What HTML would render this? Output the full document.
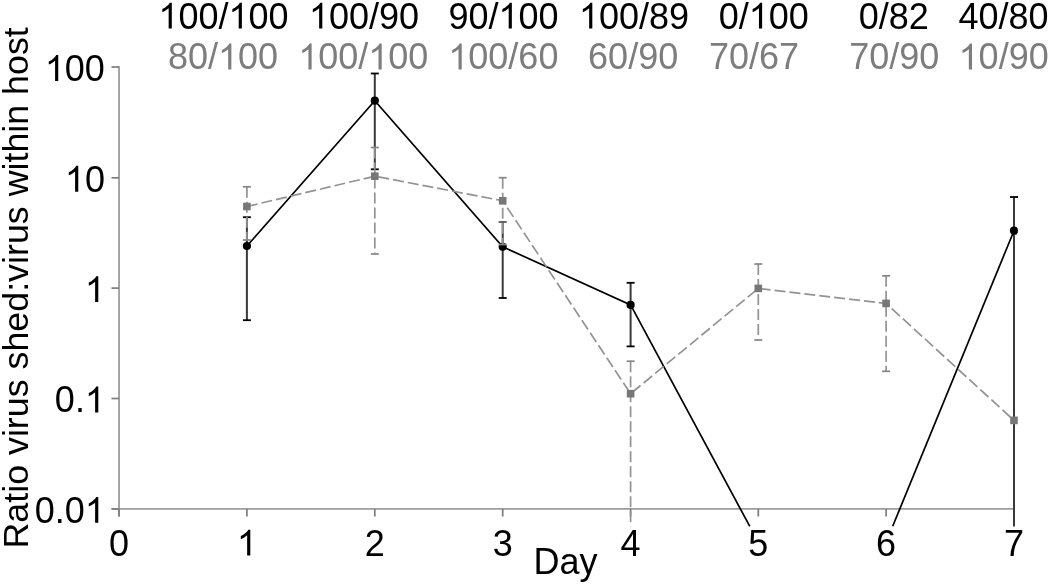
<!DOCTYPE html>
<html><head><meta charset="utf-8"><style>
html,body{margin:0;padding:0;background:#fff;}
body{width:1050px;height:584px;overflow:hidden;}
svg{display:block;will-change:transform;}
text{font-family:"Liberation Sans",sans-serif;font-size:36px;}
</style></head><body>
<svg width="1050" height="584" viewBox="0 0 1050 584">
<rect width="1050" height="584" fill="#fff"/>
<line x1="119.05" y1="66.2" x2="119.05" y2="516.5" stroke="#9c9c9c" stroke-width="1.8"/>
<line x1="111.5" y1="508.9" x2="1014" y2="508.9" stroke="#9c9c9c" stroke-width="1.6"/>
<line x1="111.5" y1="67" x2="119" y2="67" stroke="#7c7c7c" stroke-width="1.7"/>
<line x1="111.5" y1="177.8" x2="119" y2="177.8" stroke="#7c7c7c" stroke-width="1.7"/>
<line x1="111.5" y1="288.1" x2="119" y2="288.1" stroke="#7c7c7c" stroke-width="1.7"/>
<line x1="111.5" y1="398.5" x2="119" y2="398.5" stroke="#7c7c7c" stroke-width="1.7"/>
<line x1="111.5" y1="508.9" x2="119" y2="508.9" stroke="#7c7c7c" stroke-width="1.7"/>
<line x1="119" y1="508.9" x2="119" y2="516.5" stroke="#7c7c7c" stroke-width="1.7"/>
<line x1="246.9" y1="508.9" x2="246.9" y2="516.5" stroke="#7c7c7c" stroke-width="1.7"/>
<line x1="374.8" y1="508.9" x2="374.8" y2="516.5" stroke="#7c7c7c" stroke-width="1.7"/>
<line x1="502.7" y1="508.9" x2="502.7" y2="516.5" stroke="#7c7c7c" stroke-width="1.7"/>
<line x1="630.6" y1="508.9" x2="630.6" y2="516.5" stroke="#7c7c7c" stroke-width="1.7"/>
<line x1="758.3" y1="508.9" x2="758.3" y2="516.5" stroke="#7c7c7c" stroke-width="1.7"/>
<line x1="886.1" y1="508.9" x2="886.1" y2="516.5" stroke="#7c7c7c" stroke-width="1.7"/>
<line x1="1014" y1="508.9" x2="1014" y2="516.5" stroke="#7c7c7c" stroke-width="1.7"/>
<line x1="246.9" y1="217.2" x2="246.9" y2="320.2" stroke="#3a3a3a" stroke-width="2"/>
<line x1="242.9" y1="217.2" x2="250.9" y2="217.2" stroke="#000" stroke-width="1.8"/>
<line x1="242.9" y1="320.2" x2="250.9" y2="320.2" stroke="#000" stroke-width="1.8"/>
<line x1="374.8" y1="73.5" x2="374.8" y2="169.3" stroke="#3a3a3a" stroke-width="2"/>
<line x1="370.8" y1="73.5" x2="378.8" y2="73.5" stroke="#000" stroke-width="1.8"/>
<line x1="370.8" y1="169.3" x2="378.8" y2="169.3" stroke="#000" stroke-width="1.8"/>
<line x1="502.7" y1="222" x2="502.7" y2="298" stroke="#3a3a3a" stroke-width="2"/>
<line x1="498.7" y1="222" x2="506.7" y2="222" stroke="#555" stroke-width="1.8"/>
<line x1="498.7" y1="298" x2="506.7" y2="298" stroke="#000" stroke-width="1.8"/>
<line x1="630.6" y1="282.8" x2="630.6" y2="346.4" stroke="#3a3a3a" stroke-width="2"/>
<line x1="626.6" y1="282.8" x2="634.6" y2="282.8" stroke="#000" stroke-width="1.8"/>
<line x1="626.6" y1="346.4" x2="634.6" y2="346.4" stroke="#000" stroke-width="1.8"/>
<line x1="1014" y1="197" x2="1014" y2="526.5" stroke="#3a3a3a" stroke-width="2"/>
<line x1="1010" y1="197" x2="1018" y2="197" stroke="#000" stroke-width="1.8"/>
<polyline fill="none" stroke="#000" stroke-width="1.7" points="246.9,246 374.8,100.7 502.7,246.8 630.6,304.9 749.8,526.4"/>
<line x1="892.7" y1="526.2" x2="1014" y2="230.7" stroke="#000" stroke-width="1.7"/>
<circle cx="246.9" cy="246" r="4.1" fill="#000"/>
<circle cx="374.8" cy="100.7" r="4.1" fill="#000"/>
<circle cx="502.7" cy="246.8" r="4.1" fill="#000"/>
<circle cx="630.6" cy="304.9" r="4.1" fill="#000"/>
<circle cx="1014" cy="230.7" r="4.1" fill="#000"/>
<line x1="246.9" y1="186.8" x2="246.9" y2="240" stroke="#939393" stroke-width="1.7" stroke-dasharray="11,4"/>
<line x1="242.9" y1="186.8" x2="250.9" y2="186.8" stroke="#868686" stroke-width="1.7"/>
<line x1="242.9" y1="240" x2="250.9" y2="240" stroke="#868686" stroke-width="1.7"/>
<line x1="374.8" y1="147.5" x2="374.8" y2="254" stroke="#939393" stroke-width="1.7" stroke-dasharray="11,4"/>
<line x1="370.8" y1="147.5" x2="378.8" y2="147.5" stroke="#868686" stroke-width="1.7"/>
<line x1="370.8" y1="254" x2="378.8" y2="254" stroke="#868686" stroke-width="1.7"/>
<line x1="502.7" y1="177.7" x2="502.7" y2="244.5" stroke="#939393" stroke-width="1.7" stroke-dasharray="11,4"/>
<line x1="498.7" y1="177.7" x2="506.7" y2="177.7" stroke="#868686" stroke-width="1.7"/>
<line x1="498.7" y1="244.5" x2="506.7" y2="244.5" stroke="#868686" stroke-width="1.7"/>
<line x1="630.6" y1="361.2" x2="630.6" y2="526.5" stroke="#939393" stroke-width="1.7" stroke-dasharray="11,4"/>
<line x1="626.6" y1="361.2" x2="634.6" y2="361.2" stroke="#868686" stroke-width="1.7"/>
<line x1="758.3" y1="264" x2="758.3" y2="340" stroke="#939393" stroke-width="1.7" stroke-dasharray="11,4"/>
<line x1="754.3" y1="264" x2="762.3" y2="264" stroke="#868686" stroke-width="1.7"/>
<line x1="754.3" y1="340" x2="762.3" y2="340" stroke="#868686" stroke-width="1.7"/>
<line x1="886.1" y1="275.8" x2="886.1" y2="371.3" stroke="#939393" stroke-width="1.7" stroke-dasharray="11,4"/>
<line x1="882.1" y1="275.8" x2="890.1" y2="275.8" stroke="#868686" stroke-width="1.7"/>
<line x1="882.1" y1="371.3" x2="890.1" y2="371.3" stroke="#868686" stroke-width="1.7"/>
<polyline fill="none" stroke="#939393" stroke-width="1.7" stroke-dasharray="11,4" points="246.9,206.5 374.8,176.2 502.7,200.8 630.6,393.7 758.3,288.4 886.1,303.4 1014,420.4"/>
<rect x="243.1" y="202.7" width="7.6" height="7.6" fill="#777"/>
<rect x="371.0" y="172.39999999999998" width="7.6" height="7.6" fill="#777"/>
<rect x="498.9" y="197.0" width="7.6" height="7.6" fill="#777"/>
<rect x="626.8000000000001" y="389.9" width="7.6" height="7.6" fill="#777"/>
<rect x="754.5" y="284.59999999999997" width="7.6" height="7.6" fill="#777"/>
<rect x="882.3000000000001" y="299.59999999999997" width="7.6" height="7.6" fill="#777"/>
<rect x="1010.2" y="416.59999999999997" width="7.6" height="7.6" fill="#777"/>
<text x="158.40" y="28.5" fill="#000">&#8199;00/&#8199;00</text>
<path transform="translate(158.40,28.5) scale(0.017578,-0.017578)" d="M763 0H583V1147Q518 1085 412.5 1023T223 930V1104Q374 1175 487.5 1276T648 1472H763Z" fill="#000"/>
<path transform="translate(228.47,28.5) scale(0.017578,-0.017578)" d="M763 0H583V1147Q518 1085 412.5 1023T223 930V1104Q374 1175 487.5 1276T648 1472H763Z" fill="#000"/>
<text x="308.90" y="28.5" fill="#000">&#8199;00/90</text>
<path transform="translate(308.90,28.5) scale(0.017578,-0.017578)" d="M763 0H583V1147Q518 1085 412.5 1023T223 930V1104Q374 1175 487.5 1276T648 1472H763Z" fill="#000"/>
<text x="448.40" y="28.5" fill="#000">90/&#8199;00</text>
<path transform="translate(498.44,28.5) scale(0.017578,-0.017578)" d="M763 0H583V1147Q518 1085 412.5 1023T223 930V1104Q374 1175 487.5 1276T648 1472H763Z" fill="#000"/>
<text x="578.90" y="28.5" fill="#000">&#8199;00/89</text>
<path transform="translate(578.90,28.5) scale(0.017578,-0.017578)" d="M763 0H583V1147Q518 1085 412.5 1023T223 930V1104Q374 1175 487.5 1276T648 1472H763Z" fill="#000"/>
<text x="718.70" y="28.5" fill="#000">0/&#8199;00</text>
<path transform="translate(748.72,28.5) scale(0.017578,-0.017578)" d="M763 0H583V1147Q518 1085 412.5 1023T223 930V1104Q374 1175 487.5 1276T648 1472H763Z" fill="#000"/>
<text x="858.80" y="28.5" fill="#000">0/82</text>
<text x="958.50" y="28.5" fill="#000">40/80</text>
<text x="167.90" y="69.4" fill="#7d7d7d">80/&#8199;00</text>
<path transform="translate(217.94,69.4) scale(0.017578,-0.017578)" d="M763 0H583V1147Q518 1085 412.5 1023T223 930V1104Q374 1175 487.5 1276T648 1472H763Z" fill="#7d7d7d"/>
<text x="298.20" y="69.4" fill="#7d7d7d">&#8199;00/&#8199;00</text>
<path transform="translate(298.20,69.4) scale(0.017578,-0.017578)" d="M763 0H583V1147Q518 1085 412.5 1023T223 930V1104Q374 1175 487.5 1276T648 1472H763Z" fill="#7d7d7d"/>
<path transform="translate(368.27,69.4) scale(0.017578,-0.017578)" d="M763 0H583V1147Q518 1085 412.5 1023T223 930V1104Q374 1175 487.5 1276T648 1472H763Z" fill="#7d7d7d"/>
<text x="448.30" y="69.4" fill="#7d7d7d">&#8199;00/60</text>
<path transform="translate(448.30,69.4) scale(0.017578,-0.017578)" d="M763 0H583V1147Q518 1085 412.5 1023T223 930V1104Q374 1175 487.5 1276T648 1472H763Z" fill="#7d7d7d"/>
<text x="588.10" y="69.4" fill="#7d7d7d">60/90</text>
<text x="708.90" y="69.4" fill="#7d7d7d">70/67</text>
<text x="849.20" y="69.4" fill="#7d7d7d">70/90</text>
<text x="958.60" y="69.4" fill="#7d7d7d">&#8199;0/90</text>
<path transform="translate(958.60,69.4) scale(0.017578,-0.017578)" d="M763 0H583V1147Q518 1085 412.5 1023T223 930V1104Q374 1175 487.5 1276T648 1472H763Z" fill="#7d7d7d"/>
<text x="44.84" y="80.9" fill="#000">&#8199;00</text>
<path transform="translate(44.84,80.9) scale(0.017578,-0.017578)" d="M763 0H583V1147Q518 1085 412.5 1023T223 930V1104Q374 1175 487.5 1276T648 1472H763Z" fill="#000"/>
<text x="64.86" y="191.7" fill="#000">&#8199;0</text>
<path transform="translate(64.86,191.7) scale(0.017578,-0.017578)" d="M763 0H583V1147Q518 1085 412.5 1023T223 930V1104Q374 1175 487.5 1276T648 1472H763Z" fill="#000"/>
<text x="84.88" y="302.0" fill="#000">&#8199;</text>
<path transform="translate(84.88,302.0) scale(0.017578,-0.017578)" d="M763 0H583V1147Q518 1085 412.5 1023T223 930V1104Q374 1175 487.5 1276T648 1472H763Z" fill="#000"/>
<text x="54.86" y="412.4" fill="#000">0.&#8199;</text>
<path transform="translate(84.88,412.4) scale(0.017578,-0.017578)" d="M763 0H583V1147Q518 1085 412.5 1023T223 930V1104Q374 1175 487.5 1276T648 1472H763Z" fill="#000"/>
<text x="34.83" y="522.8" fill="#000">0.0&#8199;</text>
<path transform="translate(84.88,522.8) scale(0.017578,-0.017578)" d="M763 0H583V1147Q518 1085 412.5 1023T223 930V1104Q374 1175 487.5 1276T648 1472H763Z" fill="#000"/>
<text x="108.99" y="555.5" fill="#000">0</text>
<text x="236.89" y="555.5" fill="#000">&#8199;</text>
<path transform="translate(236.89,555.5) scale(0.017578,-0.017578)" d="M763 0H583V1147Q518 1085 412.5 1023T223 930V1104Q374 1175 487.5 1276T648 1472H763Z" fill="#000"/>
<text x="364.79" y="555.5" fill="#000">2</text>
<text x="492.69" y="555.5" fill="#000">3</text>
<text x="620.59" y="555.5" fill="#000">4</text>
<text x="748.29" y="555.5" fill="#000">5</text>
<text x="876.09" y="555.5" fill="#000">6</text>
<text x="1003.99" y="555.5" fill="#000">7</text>
<text x="533.6" y="573.7" fill="#000">Day</text>
<text transform="translate(27.7,548.5) rotate(-90)" x="0" y="0" fill="#000" style="font-size:35.8px">Ratio virus shed:virus within host</text>
</svg>
</body></html>
